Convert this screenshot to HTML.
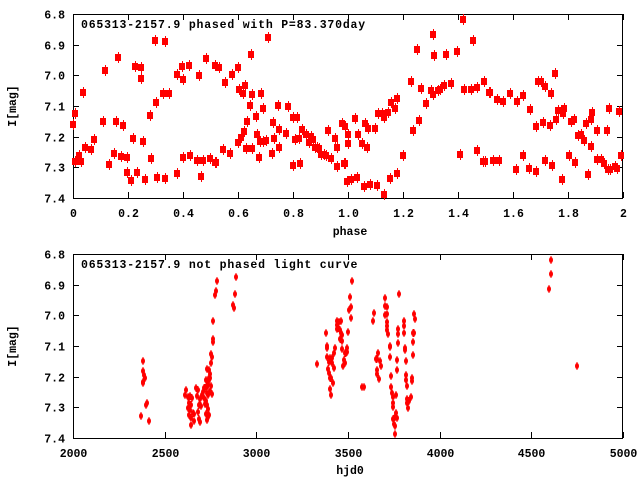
<!DOCTYPE html>
<html><head><meta charset="utf-8"><style>
html,body{margin:0;padding:0;background:#fff}
svg{display:block}
text{font-family:"Liberation Mono",monospace;font-weight:bold;font-size:11.5px;fill:#000}
text.t{letter-spacing:0.8px}
</style></head><body>
<svg id="s" width="640" height="480" xmlns="http://www.w3.org/2000/svg"></svg>
<script>
var s=document.getElementById('s'),h='';
function ln(x1,y1,x2,y2,c,w){h+='<line x1="'+x1+'" y1="'+y1+'" x2="'+x2+'" y2="'+y2+'" stroke="'+(c||'#000')+'" stroke-width="'+(w||1)+'"/>';}
function tx(x,y,t,a,c){h+='<text'+(c?' class="'+c+'"':'')+' x="'+x+'" y="'+y+'" text-anchor="'+(a||'middle')+'">'+t+'</text>';}
function frame(L,T,R,B){h+='<rect x="'+L+'" y="'+T+'" width="'+(R-L)+'" height="'+(B-T)+'" fill="none" stroke="#000" stroke-width="1"/>';}
var L=73,R=623;
var T1=14,B1=198;
frame(L+.5,T1+.5,R-.5,B1+.5);
for(var i=0;i<=6;i++){var y=Math.round(T1+(B1-T1)*i/6)+.5;ln(L,y,L+6,y);ln(R-6,y,R,y);tx(65,y+4,(6.8+i*0.1).toFixed(1),'end');}
for(var i=0;i<=10;i++){var x=Math.round(L+(R-L)*i/10)+.5;ln(x,B1,x,B1-6);ln(x,T1,x,T1+6);tx(x,217,i==0?'0':(i==10?'2':(i*0.2).toFixed(1)));}
tx(350,235,'phase');
h+='<text transform="translate(16,106) rotate(-90)" text-anchor="middle">I[mag]</text>';
tx(81,28,'065313-2157.9 phased with P=83.370day','start','t');
var T2=254,B2=438;
frame(L+.5,T2+.5,R-.5,B2+.5);
for(var i=0;i<=6;i++){var y=Math.round(T2+(B2-T2)*i/6)+.5;ln(L,y,L+6,y);ln(R-6,y,R,y);tx(65,y+4,(6.8+i*0.1).toFixed(1),'end');}
for(var i=0;i<=6;i++){var x=Math.round(L+(R-L)*i/6)+.5;ln(x,B2,x,B2-6);ln(x,T2,x,T2+6);tx(x,457,2000+i*500);}
tx(350,474,'hjd0');
h+='<text transform="translate(16,346) rotate(-90)" text-anchor="middle">I[mag]</text>';
tx(81,268,'065313-2157.9 not phased light curve','start','t');
var P=[[73,124],[75,113],[75,161],[79,155],[81,161],[83,92],[85,147],[91,149],[94,139],[103,121],[105,70],[109,164],[114,153],[116,121],[118,57],[121,156],[123,125],[127,157],[127,172],[131,180],[133,138],[135,66],[137,172],[141,67],[141,78],[143,141],[145,179],[150,115],[151,158],[155,40],[156,102],[157,177],[163,93],[165,41],[165,178],[169,93],[177,173],[177,74],[182,66],[183,79],[183,157],[189,65],[190,155],[197,160],[199,75],[201,176],[203,160],[206,58],[210,158],[215,65],[215,162],[219,67],[216,162],[223,149],[225,82],[230,153],[232,74],[238,67],[238,142],[239,89],[241,137],[243,93],[244,131],[245,85],[246,148],[247,121],[250,105],[251,54],[252,94],[252,148],[256,116],[257,134],[259,157],[260,141],[261,93],[263,108],[263,141],[266,140],[268,37],[272,153],[273,122],[274,138],[278,105],[279,129],[279,147],[286,133],[288,106],[293,117],[293,165],[295,139],[297,117],[299,138],[300,163],[302,129],[306,134],[309,142],[311,136],[313,139],[315,147],[317,147],[319,148],[321,154],[324,154],[326,155],[328,130],[331,158],[335,138],[337,166],[337,147],[342,123],[344,163],
[345,126],[348,134],[348,143],[345,163],[347,181],[351,179],[355,118],[357,177],[358,134],[362,143],[364,186],[365,123],[367,147],[368,128],[370,184],[375,128],[377,185],[378,113],[382,113],[384,117],[384,194],[388,112],[390,178],[391,102],[395,108],[397,98],[397,173],[403,155],[411,81],[413,130],[417,49],[419,120],[421,88],[426,103],[431,90],[433,34],[433,94],[434,55],[438,90],[440,89],[444,85],[446,54],[451,83],[457,51],[460,154],[463,19],[464,89],[471,89],[473,40],[477,87],[477,150],[483,161],[484,81],[489,92],
[485,161],[490,92],[493,160],[497,99],[499,160],[503,101],[510,93],[516,169],[517,101],[523,95],[523,155],[529,168],[530,109],[536,171],[536,126],[538,81],[541,81],[543,122],[545,86],[545,160],[550,125],[551,93],[552,165],[555,73],[556,119],[558,110],[562,179],[563,113],[564,108],[569,155],[571,121],[574,119],[575,162],[578,135],[581,134],[584,140],[586,123],[588,174],[591,146],[591,119],[592,112],[597,130],[597,159],[601,159],[604,163],[607,130],[608,169],[610,169],[609,108],[615,166],[617,168],[619,111],[621,155]];
function sq(x,y){h+='<rect x="'+(x-3)+'" y="'+(y-3)+'" width="6" height="7" fill="#f00"/><line x1="'+(x+.5)+'" y1="'+(y-5)+'" x2="'+(x+.5)+'" y2="'+(y+6)+'" stroke="#f00"/>';}
P.forEach(function(p){sq(p[0],p[1]);});
var Q=[[143,361],[143,371],[144,375],[145,378],[143,382],[143,383],[147,403],[146,405],[141,416],[149,421],
[186,390],[185,395],[188,397],[190,396],[192,398],[189,403],[191,405],[188,408],[190,410],[193,413],[189,415],[194,414],[191,418],[196,388],[198,390],[197,396],[200,399],[202,395],[204,398],[206,401],[205,404],[207,405],[208,409],[199,405],[201,406],[198,412],[199,419],[200,422],[203,392],[205,388],[207,386],[208,384],[209,380],[210,378],[211,386],[210,391],[212,394],[208,395],[206,414],[208,417],[207,420],[209,415],[191,425],[194,421],
[213,321],[213,339],[213,342],[211,354],[212,357],[211,363],[207,369],[209,370],[210,374],[209,378],[206,380],[207,387],[204,388],[207,393],[217,281],[216,291],[215,295],[236,277],[235,294],[233,305],[234,308],
[352,281],[350,297],[351,307],[349,310],[351,318],[337,321],[339,322],[341,321],[337,325],[338,328],[337,329],[340,330],[341,333],[342,335],[326,333],[348,332],[340,339],[342,341],[327,346],[327,348],[335,348],[334,353],[342,349],[347,348],[347,352],[345,353],[346,353],[327,357],[330,358],[332,358],[344,360],[329,362],[332,363],[345,363],[343,366],[317,364],[334,368],[328,369],[329,373],[330,378],[331,378],[333,383],[330,389],[331,395],[362,387],[364,387],
[385,298],[399,294],[385,306],[387,307],[374,313],[385,315],[387,314],[373,321],[387,322],[387,326],[387,330],[388,334],[398,329],[398,334],[404,321],[404,326],[404,333],[414,314],[415,319],[413,333],[414,333],[398,343],[390,346],[390,347],[413,342],[405,348],[405,350],[378,353],[376,359],[377,359],[390,357],[413,355],[397,360],[406,361],[380,361],[381,366],[397,370],[377,370],[377,374],[406,375],[391,376],[379,379],[406,380],[412,378],[412,381],[407,386],[391,387],[392,393],[396,395],[393,397],[411,397],[407,399],[409,401],[407,403],[393,403],[393,407],[408,408],[396,413],[395,417],[393,419],[397,418],[394,424],[395,426],[395,434],
[551,260],[551,274],[549,289],[577,366]];
Q.forEach(function(p){h+='<ellipse cx="'+p[0]+'" cy="'+p[1]+'" rx="2" ry="3" fill="#f00"/><line x1="'+p[0]+'" y1="'+(p[1]-4)+'" x2="'+p[0]+'" y2="'+(p[1]+4)+'" stroke="#f00"/>';});
s.innerHTML=h;
</script>
</body></html>
